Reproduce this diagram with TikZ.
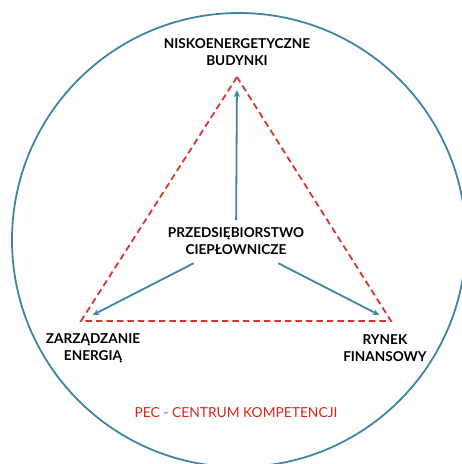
\documentclass[tikz,border=0pt]{standalone}
\usepackage{fontspec}
\setmainfont{Lato}
\usetikzlibrary{arrows.meta}
\tikzset{% arrow tips and looks
    >={Stealth[length=7pt,width=6pt]}
}
\definecolor{pecblue}{HTML}{3E86A4}
\definecolor{pecred}{HTML}{D9352C}
\definecolor{pectext}{HTML}{E0231C}
\tikzset{
    lbl/.style={align=center, font=\bfseries\fontsize{13.6}{17}\selectfont, text=black},
    link/.style={->, draw=pecblue, line width=1.8pt, shorten >=13pt},
    edge/.style={draw=pecred, line width=1.8pt, dash pattern=on 6.5pt off 4pt}
}

\begin{document}
\begin{tikzpicture}[x=1pt,y=-1pt]
		\newcommand{\cx}{239}
		\newcommand{\cy}{240}
		\newcommand{\rad}{227}

		\useasboundingbox (0,0) rectangle (462,464);
		\clip (0,0) rectangle (462,464);

		% outer circle
		\draw[pecblue, line width=1.8pt] (\cx,\cy) circle (\rad);

		% corners of the triangle
		\coordinate (top) at (237,77);
		\coordinate (left) at (81,321);
		\coordinate (right) at (391,321);

		% triangle
		\draw[edge] (top) -- (left) -- (right) -- cycle;

		% labels
		\node[lbl] (budynki) at (237,52) {NISKOENERGETYCZNE\\BUDYNKI};
		\node[lbl, minimum height=43pt, inner xsep=2pt] (pec) at (236,241.5) {PRZEDSIĘBIORSTWO\\CIEPŁOWNICZE};
		\node[lbl] (energia) at (93,348.5) {ZARZĄDZANIE\\ENERGIĄ};
		\node[lbl] (rynek) at (385,348.5) {RYNEK\\FINANSOWY};
		\node[font=\fontsize{13.8}{17}\selectfont, text=pectext] (centrum) at (236,413) {PEC - CENTRUM KOMPETENCJI};

		% arrows
		\draw[link] (pec) -- (top);
		\draw[link] (pec) -- (left);
		\draw[link] (pec) -- (right);

	\end{tikzpicture}
\end{document}
